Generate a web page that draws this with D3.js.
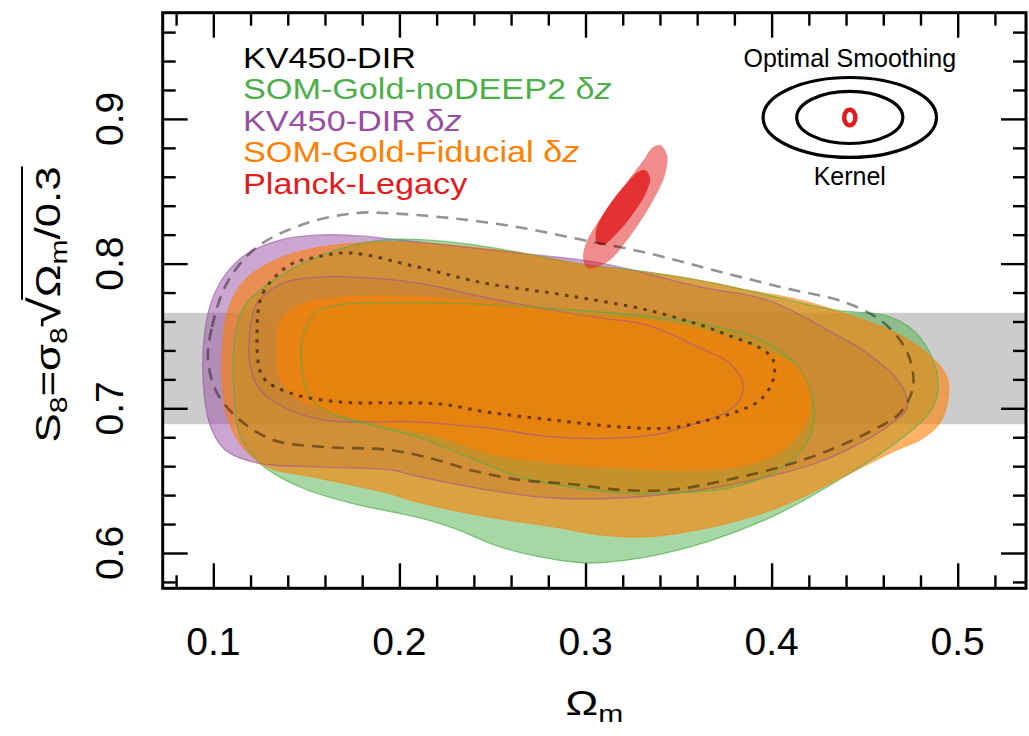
<!DOCTYPE html>
<html>
<head>
<meta charset="utf-8" />
<title>S8 vs Omega_m</title>
<style>
  body { margin: 0; background: #fff; }
  svg text { font-family: "Liberation Sans", Arial, Helvetica, sans-serif; }
</style>
</head>
<body>
<script src="https://d3js.org/d3.v7.min.js"></script>
<script>
// axis ticks
var xTicksMajor = [0.1, 0.2, 0.3, 0.4, 0.5];
var yTicksMajor = [0.6, 0.7, 0.8, 0.9];
var xTicksMinor = [0.08, 0.12, 0.14, 0.16, 0.18, 0.22, 0.24, 0.26, 0.28, 0.32, 0.34, 0.36, 0.38, 0.42, 0.44, 0.46, 0.48, 0.52];
var yTicksMinor = [0.58, 0.62, 0.64, 0.66, 0.68, 0.72, 0.74, 0.76, 0.78, 0.82, 0.84, 0.86, 0.88, 0.92, 0.94, 0.96];

// grey S8 band
var s8Band = [0.689, 0.766];

// contours, [Omega_m, S8]
var greenOuter = [[0.1117,0.7493],[0.117,0.7715],[0.1289,0.7853],[0.1557,0.8046],[0.1912,0.8163],[0.2272,0.815],[0.2632,0.8081],[0.2971,0.7998],[0.333,0.7943],[0.3685,0.7867],[0.4045,0.7763],[0.433,0.768],[0.462,0.7638],[0.4771,0.7528],[0.4867,0.7334],[0.4894,0.7127],[0.4851,0.6974],[0.4674,0.6767],[0.4405,0.6539],[0.4045,0.6277],[0.3685,0.609],[0.333,0.5973],[0.3009,0.5931],[0.2756,0.5973],[0.2541,0.6042],[0.2288,0.6173],[0.2111,0.6242],[0.1734,0.6346],[0.1466,0.6456],[0.1262,0.6608],[0.1143,0.6816],[0.1111,0.7127]];
var greenInner = [[0.1477,0.7265],[0.1482,0.7507],[0.1547,0.7659],[0.168,0.7715],[0.2003,0.7728],[0.238,0.7721],[0.2756,0.7694],[0.3078,0.7666],[0.34,0.7625],[0.3669,0.7576],[0.3975,0.7452],[0.4153,0.7265],[0.4222,0.7057],[0.4206,0.6802],[0.4061,0.6594],[0.3793,0.6456],[0.3454,0.6415],[0.3185,0.6415],[0.2917,0.6456],[0.2648,0.6526],[0.238,0.6657],[0.2111,0.6795],[0.1842,0.6885],[0.1627,0.6968],[0.152,0.7071]];
var purpleOuter = [[0.0955,0.7542],[0.0993,0.7749],[0.1063,0.7922],[0.117,0.806],[0.1358,0.8163],[0.1573,0.8198],[0.1788,0.8191],[0.2003,0.8163],[0.2632,0.8074],[0.3078,0.8005],[0.3615,0.7839],[0.3975,0.7749],[0.433,0.7521],[0.4512,0.7382],[0.469,0.7175],[0.4728,0.7009],[0.462,0.6871],[0.4437,0.6733],[0.4243,0.6622],[0.3975,0.6526],[0.3615,0.6436],[0.3185,0.638],[0.2826,0.638],[0.2471,0.6436],[0.2111,0.6526],[0.1949,0.6574],[0.1589,0.6594],[0.1235,0.6622],[0.1063,0.6712],[0.0982,0.6885],[0.0945,0.7196]];
var purpleInner = [[0.1197,0.7542],[0.1229,0.7715],[0.1305,0.7818],[0.1412,0.7881],[0.1573,0.7908],[0.1734,0.7908],[0.2095,0.7867],[0.2449,0.777],[0.281,0.768],[0.3078,0.7625],[0.333,0.7576],[0.3615,0.7417],[0.3766,0.732],[0.3841,0.7196],[0.3835,0.7071],[0.375,0.6968],[0.3615,0.6905],[0.3416,0.6829],[0.3185,0.6795],[0.2826,0.6802],[0.2471,0.6864],[0.2111,0.6905],[0.1589,0.6919],[0.1375,0.7009],[0.1251,0.7127],[0.1197,0.7299]];
var orangeOuter = [[0.1047,0.7403],[0.1079,0.768],[0.117,0.7887],[0.1332,0.8025],[0.1573,0.8115],[0.1896,0.815],[0.2272,0.8129],[0.2648,0.8074],[0.2971,0.7998],[0.3508,0.7908],[0.3868,0.7818],[0.4153,0.7749],[0.4421,0.7645],[0.4636,0.7542],[0.4835,0.7382],[0.4943,0.7216],[0.4948,0.7057],[0.4905,0.6899],[0.4798,0.6781],[0.4674,0.6712],[0.4405,0.6539],[0.4045,0.6318],[0.3685,0.618],[0.333,0.6111],[0.3078,0.6125],[0.2826,0.618],[0.2471,0.6249],[0.2111,0.6346],[0.1912,0.6422],[0.1557,0.6519],[0.1289,0.6594],[0.117,0.6712],[0.1079,0.6919],[0.1047,0.7161]];
var orangeInner = [[0.1342,0.7382],[0.1358,0.7597],[0.1466,0.7715],[0.1643,0.7763],[0.2095,0.777],[0.2632,0.7708],[0.2971,0.7645],[0.333,0.7611],[0.3685,0.7521],[0.3954,0.7403],[0.4136,0.7286],[0.4206,0.7106],[0.419,0.6919],[0.4083,0.6733],[0.3868,0.6608],[0.3545,0.6574],[0.3185,0.6588],[0.2826,0.6622],[0.2471,0.6691],[0.2218,0.6802],[0.1912,0.6885],[0.1627,0.6974],[0.1439,0.7078],[0.1358,0.7209]];
var kvDashed = [[0.0972,0.7334],[0.0993,0.7562],[0.1074,0.7867],[0.1235,0.8115],[0.1504,0.828],[0.1772,0.835],[0.1912,0.835],[0.2272,0.8315],[0.2632,0.8253],[0.2987,0.8163],[0.333,0.8074],[0.3685,0.7956],[0.4045,0.7839],[0.4405,0.7728],[0.4582,0.7611],[0.469,0.7472],[0.4744,0.7334],[0.476,0.7147],[0.469,0.6968],[0.4545,0.685],[0.4313,0.6712],[0.4045,0.6594],[0.3685,0.6484],[0.3454,0.6436],[0.3185,0.6436],[0.2917,0.6477],[0.2648,0.6505],[0.238,0.6574],[0.2202,0.6643],[0.1949,0.6712],[0.1589,0.6733],[0.1321,0.6781],[0.1143,0.6919],[0.102,0.7106]];
var kvDotted = [[0.1235,0.7521],[0.1267,0.7798],[0.1412,0.7991],[0.1557,0.8046],[0.1734,0.8074],[0.2095,0.7977],[0.2449,0.7867],[0.281,0.7798],[0.3078,0.7742],[0.333,0.768],[0.3615,0.7576],[0.3793,0.7493],[0.3938,0.7417],[0.4008,0.7334],[0.4008,0.7196],[0.3938,0.7057],[0.3793,0.6968],[0.3615,0.6905],[0.3454,0.6864],[0.3185,0.6871],[0.2826,0.6919],[0.2471,0.6974],[0.2218,0.703],[0.1949,0.7037],[0.168,0.7044],[0.1412,0.7106],[0.1267,0.7216]];
var planckOuter = [[0.34,0.8819],[0.3438,0.875],[0.3427,0.8612],[0.3373,0.846],[0.3293,0.8287],[0.3212,0.8143],[0.3132,0.8025],[0.3051,0.797],[0.3009,0.797],[0.2987,0.8039],[0.3003,0.8143],[0.3067,0.8287],[0.3148,0.8439],[0.3239,0.8591],[0.332,0.873],[0.3357,0.8799]];
var planckInner = [[0.332,0.8647],[0.3347,0.8591],[0.332,0.8474],[0.325,0.8336],[0.3175,0.8218],[0.3094,0.8129],[0.3062,0.8143],[0.3057,0.8232],[0.3094,0.8336],[0.3159,0.846],[0.3228,0.8564],[0.3282,0.8633]];

// smoothing kernel inset: centre and half-widths
var kernelCenter = [0.442, 0.901];
var kernelOuter = [0.0466, 0.0276];
var kernelInner = [0.0285, 0.018];
var kernelRed = [0.003, 0.0054];

var legendNames = ["KV450-DIR", "SOM-Gold-noDEEP2", "KV450-DIR", "SOM-Gold-Fiducial", "Planck-Legacy"];
var legendDeltaZ = [false, true, true, true, false];

var green = "#4daf4a", purple = "#984ea3", orange = "#ff7f00", red = "#e41a1c";
var legendColors = ["#000", green, purple, orange, red];

var width = 1029, height = 736;

var x = d3.scaleLinear().domain([0.0728, 0.5367]).range([162.7, 1026]);
var y = d3.scaleLinear().domain([0.5756, 0.9734]).range([588.3, 12.7]);

var svg = d3.select("body").append("svg")
            .attr("width", width)
            .attr("height", height);

svg.append("clipPath").attr("id", "plotclip")
   .append("rect")
   .attr("x", x.range()[0]).attr("y", y.range()[1])
   .attr("width", x.range()[1] - x.range()[0])
   .attr("height", y.range()[0] - y.range()[1]);

var plot = svg.append("g").attr("clip-path", "url(#plotclip)");

plot.append("rect")
    .attr("x", x.range()[0])
    .attr("width", x.range()[1] - x.range()[0])
    .attr("y", y(s8Band[1]))
    .attr("height", y(s8Band[0]) - y(s8Band[1]))
    .attr("fill", "#cccccc");

var contourLine = d3.line()
                    .x(d => x(d[0]))
                    .y(d => y(d[1]))
                    .curve(d3.curveCatmullRomClosed.alpha(0.5));

var layers = [
    {d: purpleOuter, c: purple, o: 0.5, s: 0.55},
    {d: purpleInner, c: purple, o: 0.5, s: 0.55},
    {d: greenOuter, c: green, o: 0.5, s: 0.65},
    {d: greenInner, c: green, o: 0.5, s: 0.65},
    {d: orangeOuter, c: orange, o: 0.6, s: 0.35},
    {d: orangeInner, c: orange, o: 0.6, s: 0.35}
];

plot.append("g").selectAll("path")
    .data(layers)
    .enter().append("path")
    .attr("d", l => contourLine(l.d))
    .attr("fill", l => l.c)
    .attr("fill-opacity", l => l.o)
    .attr("stroke", "none");

plot.append("g").selectAll("path")
    .data(layers)
    .enter().append("path")
    .attr("d", l => contourLine(l.d))
    .attr("fill", "none")
    .attr("stroke", l => l.c)
    .attr("stroke-opacity", l => l.s)
    .attr("stroke-width", 1.3);

plot.append("path")
    .attr("d", contourLine(planckOuter))
    .attr("fill", red)
    .attr("fill-opacity", 0.5);
plot.append("path")
    .attr("d", contourLine(planckInner))
    .attr("fill", red)
    .attr("fill-opacity", 0.8);

plot.append("path")
    .attr("d", contourLine(kvDashed))
    .attr("fill", "none")
    .attr("stroke", "#000")
    .attr("stroke-opacity", 0.42)
    .attr("stroke-width", 2.6)
    .attr("stroke-dasharray", "12,8");
plot.append("path")
    .attr("d", contourLine(kvDotted))
    .attr("fill", "none")
    .attr("stroke", "#000")
    .attr("stroke-opacity", 0.55)
    .attr("stroke-width", 3)
    .attr("stroke-dasharray", "3.5,6.5");

// ticks on all four sides, pointing inwards
var x0 = x.range()[0], x1 = x.range()[1], y0 = y.range()[0], y1 = y.range()[1];
function tickAxis(axis, tr, vals, size) {
    var g = svg.append("g").attr("transform", tr)
               .call(axis.tickValues(vals).tickSize(-size).tickFormat(""));
    g.select(".domain").remove();
    g.selectAll("line").attr("stroke", "#000").attr("stroke-width", 2.4);
}
tickAxis(d3.axisBottom(x), "translate(0," + y0 + ")", xTicksMinor, 13);
tickAxis(d3.axisBottom(x), "translate(0," + y0 + ")", xTicksMajor, 25);
tickAxis(d3.axisTop(x), "translate(0," + y1 + ")", xTicksMinor, 13);
tickAxis(d3.axisTop(x), "translate(0," + y1 + ")", xTicksMajor, 25);
tickAxis(d3.axisLeft(y), "translate(" + x0 + ",0)", yTicksMinor, 13);
tickAxis(d3.axisLeft(y), "translate(" + x0 + ",0)", yTicksMajor, 25);
tickAxis(d3.axisRight(y), "translate(" + x1 + ",0)", yTicksMinor, 13);
tickAxis(d3.axisRight(y), "translate(" + x1 + ",0)", yTicksMajor, 25);

svg.append("rect")
   .attr("x", x0).attr("y", y1)
   .attr("width", x1 - x0).attr("height", y0 - y1)
   .attr("fill", "none")
   .attr("stroke", "#000")
   .attr("stroke-width", 3);

// tick labels
svg.append("g").selectAll("text")
   .data(xTicksMajor)
   .enter().append("text")
   .attr("x", d => x(d))
   .attr("y", 655)
   .attr("text-anchor", "middle")
   .style("font-size", "39px")
   .text(d => d3.format(".1f")(d));

svg.append("g").selectAll("text")
   .data(yTicksMajor)
   .enter().append("text")
   .attr("transform", d => "translate(123," + y(d) + ") rotate(-90)")
   .attr("text-anchor", "middle")
   .style("font-size", "39px")
   .text(d => d3.format(".1f")(d));

// axis titles
var xTitle = svg.append("text")
   .attr("transform", "translate(" + ((x0 + x1) / 2) + ",715) scale(1.25,1)")
   .attr("text-anchor", "middle")
   .style("font-size", "35px");
xTitle.append("tspan").text("\u03A9");
xTitle.append("tspan").attr("dy", 7).style("font-size", "24px").text("m");

var yTitleG = svg.append("g")
   .attr("transform", "translate(60," + ((y0 + y1) / 2 + 4) + ") rotate(-90) scale(1.25,1)");
var yTitle = yTitleG.append("text")
   .attr("text-anchor", "middle")
   .style("font-size", "35px");
yTitle.append("tspan").text("S");
yTitle.append("tspan").attr("dy", 7).style("font-size", "24px").text("8");
yTitle.append("tspan").attr("dy", -7).text("=\u03C3");
yTitle.append("tspan").attr("dy", 7).style("font-size", "24px").text("8");
yTitle.append("tspan").attr("dy", -7).style("font-size", "44px").text("\u221A");
yTitle.append("tspan").style("font-size", "35px").text("\u03A9");
yTitle.append("tspan").attr("dy", 7).style("font-size", "24px").text("m");
yTitle.append("tspan").attr("dy", -7).text("/0.3");
var tn = yTitle.node();
var ovA = tn.getEndPositionOfChar(5).x - 2;
var ovB = tn.getEndPositionOfChar(11).x;
yTitleG.append("line")
   .attr("x1", ovA).attr("x2", ovB)
   .attr("y1", -38).attr("y2", -38)
   .attr("stroke", "#000")
   .attr("stroke-width", 2);

// legend
var legend = svg.append("g").attr("transform", "translate(243,0) scale(1.14,1)");
legendNames.forEach(function(name, i) {
    var t = legend.append("text")
        .attr("x", 0)
        .attr("y", 68 + i * 31.4)
        .attr("fill", legendColors[i])
        .style("font-size", "30px");
    t.append("tspan").text(name);
    if (legendDeltaZ[i]) {
        t.append("tspan").text(" \u03B4");
        t.append("tspan").style("font-style", "italic").text("z");
    }
});

// smoothing kernel inset
var kx = x(kernelCenter[0]), ky = y(kernelCenter[1]);
svg.append("text")
   .attr("x", kx).attr("y", 66.5)
   .attr("text-anchor", "middle")
   .style("font-size", "25px")
   .text("Optimal Smoothing");
svg.append("text")
   .attr("x", kx).attr("y", 185)
   .attr("text-anchor", "middle")
   .style("font-size", "25px")
   .text("Kernel");
[kernelOuter, kernelInner].forEach(function(k) {
    svg.append("ellipse")
       .attr("cx", kx).attr("cy", ky)
       .attr("rx", x(kernelCenter[0] + k[0]) - kx)
       .attr("ry", ky - y(kernelCenter[1] + k[1]))
       .attr("fill", "none")
       .attr("stroke", "#000")
       .attr("stroke-width", 3.2);
});
svg.append("ellipse")
   .attr("cx", kx).attr("cy", ky)
   .attr("rx", x(kernelCenter[0] + kernelRed[0]) - kx)
   .attr("ry", ky - y(kernelCenter[1] + kernelRed[1]))
   .attr("fill", "none")
   .attr("stroke", red)
   .attr("stroke-width", 4.5);
</script>
</body>
</html>
